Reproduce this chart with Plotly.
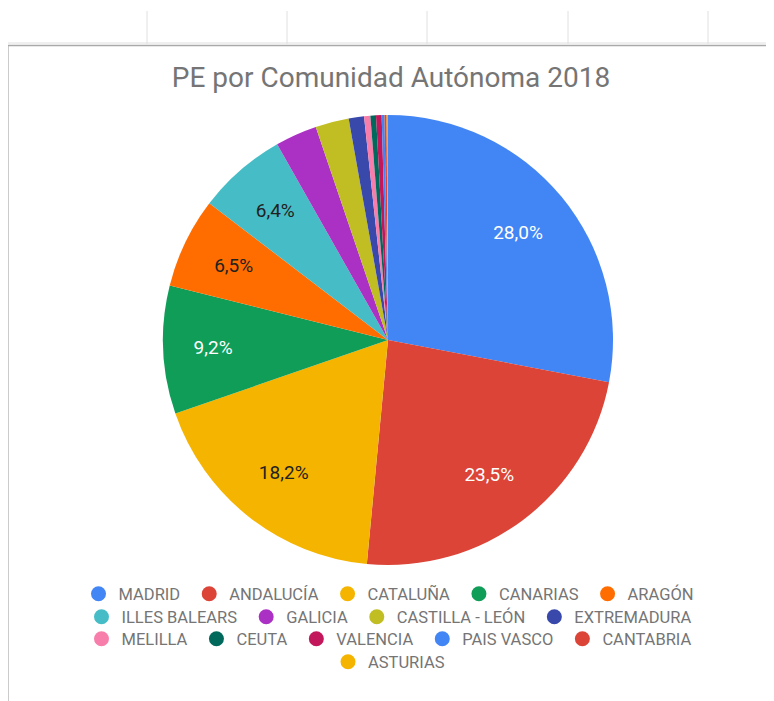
import plotly.graph_objects as go

# ---------------- data ----------------
regions = ["MADRID", "ANDALUCÍA", "CATALUÑA", "CANARIAS", "ARAGÓN",
           "ILLES BALEARS", "GALICIA", "CASTILLA - LEÓN", "EXTREMADURA",
           "MELILLA", "CEUTA", "VALENCIA", "PAIS VASCO", "CANTABRIA", "ASTURIAS"]
values = [28.0, 23.5, 18.2, 9.2, 6.5, 6.4, 3.0, 2.4, 1.1,
          0.45, 0.4, 0.4, 0.2, 0.15, 0.1]
colors = ["#4285F4", "#DB4437", "#F4B400", "#0F9D58", "#FF6D00",
          "#46BDC6", "#AB30C4", "#C0BE22", "#3949AB",
          "#F77EAB", "#00695C", "#C2185B", "#4285F4", "#DB4437", "#F4B400"]
legend_rows = [0, 0, 0, 0, 0, 1, 1, 1, 1, 2, 2, 2, 2, 2, 3]
title_text = "PE por Comunidad Autónoma 2018"

# page is 774x701; the html body has an 8px margin
OX, OY = 8, 8
W, H = 774 - OX, 701 - OY
total = sum(values)
shares = [v / total for v in values]
pct_txt = [f"{s * 100:.1f}%".replace(".", ",") for s in shares]
labels_wide = [t if s >= 0.08 else "" for t, s in zip(pct_txt, shares)]
labels_thin = [t if 0.05 <= s < 0.08 else "" for t, s in zip(pct_txt, shares)]
dark_slices = {"MADRID", "ANDALUCÍA", "CANARIAS"}
text_colors = ["#ffffff" if r in dark_slices else "#212121" for r in regions]


def px(x):
    return (x - OX) / W


def py(y):
    return 1 - (y - OY) / H


CX, CY, R = 388, 340, 225
pie_domain = dict(x=[px(CX - R), px(CX + R)], y=[py(CY + R), py(CY - R)])
R2 = 206
ring2_domain = dict(x=[px(CX - R2), px(CX + R2)], y=[py(CY + R2), py(CY - R2)])

fig = go.Figure()

# coloured slices
fig.add_trace(go.Pie(
    labels=regions, values=values, sort=False, direction="clockwise", rotation=0,
    marker=dict(colors=colors, line=dict(width=0)),
    textinfo="none", domain=pie_domain,
    showlegend=False, hoverinfo="label+percent",
))
# transparent rings carrying the percentage labels (places them at ~3/4 radius)
for txt, dom, hole in [(labels_wide, pie_domain, 0.5), (labels_thin, ring2_domain, 0.5)]:
    fig.add_trace(go.Pie(
        labels=regions, values=values, sort=False, direction="clockwise", rotation=0,
        hole=hole,
        marker=dict(colors=["rgba(0,0,0,0)"] * len(values), line=dict(width=0)),
        text=txt, textinfo="text", textposition="inside",
        insidetextorientation="horizontal",
        textfont=dict(family="Roboto", size=19, color=text_colors),
        domain=dom, showlegend=False, hoverinfo="skip",
    ))

legend_names = ["legend", "legend2", "legend3", "legend4"]
for name, col, row in zip(regions, colors, legend_rows):
    fig.add_trace(go.Scatter(
        x=[None], y=[None], mode="markers", name=name + "\u00a0",
        marker=dict(color=col, size=15, symbol="circle"),
        legend=legend_names[row], showlegend=True, hoverinfo="skip",
    ))

row_y = [594, 617, 639, 662]
leg_common = dict(orientation="h", xanchor="center", x=0.5, yanchor="middle",
                  font=dict(family="Roboto", size=16.5, color="#757575"),
                  bgcolor="rgba(0,0,0,0)", itemclick=False, itemdoubleclick=False)
layout_legends = {}
for i, ln in enumerate(legend_names):
    layout_legends[ln] = dict(y=py(row_y[i]), **leg_common)

# spreadsheet background decoration
shapes = []
grid_col = "#e0e0e0"
for gx in [6, 147, 287, 427, 568, 708]:
    shapes.append(dict(type="line", xref="paper", yref="paper", layer="below",
                       x0=px(gx), x1=px(gx), y0=py(11), y1=py(44),
                       line=dict(color=grid_col, width=1)))
shapes.append(dict(type="line", xref="paper", yref="paper", layer="below",
                   x0=0, x1=1, y0=py(43), y1=py(43), line=dict(color=grid_col, width=1)))
gy = 55.0
while gy < 701:
    shapes.append(dict(type="line", xref="paper", yref="paper", layer="below",
                       x0=px(768), x1=1, y0=py(gy), y1=py(gy), line=dict(color=grid_col, width=1)))
    gy += 23.1
shapes.append(dict(type="rect", xref="paper", yref="paper", layer="below",
                   x0=px(7.8), x1=px(767.5), y0=py(720), y1=py(45.5),
                   fillcolor="#ffffff", line=dict(color="#a9a9a9", width=1.6)))

fig.update_layout(
    width=W, height=H,
    margin=dict(l=0, r=0, t=0, b=0),
    paper_bgcolor="#ffffff", plot_bgcolor="rgba(0,0,0,0)",
    separators=",.",
    title=dict(text=title_text, x=0.5, xanchor="center", y=py(77), yanchor="middle",
               font=dict(family="Roboto", size=28, color="#757575")),
    xaxis=dict(visible=False), yaxis=dict(visible=False),
    shapes=shapes,
    **layout_legends,
)

fig.write_html("out.html")
